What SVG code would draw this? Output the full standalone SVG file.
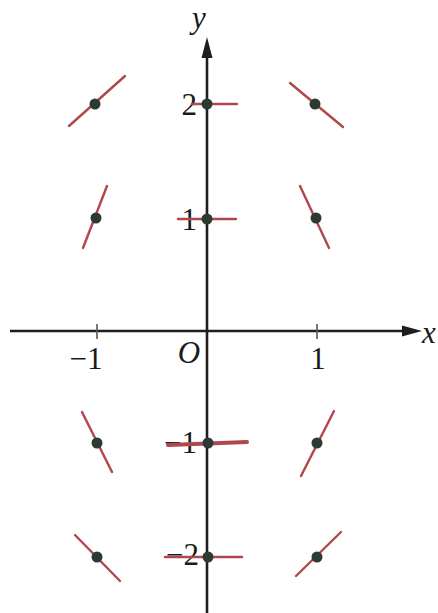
<svg xmlns="http://www.w3.org/2000/svg" width="438" height="613" viewBox="0 0 438 613">
<defs>
<style>
.lbl{font-family:"Liberation Serif","Times New Roman",serif;font-size:31px;fill:#1a1a1a}
.it{font-style:italic}
.axis{stroke:#1e1e1e;stroke-width:2.6;fill:none}
.tick{stroke:#555;stroke-width:1.6}
.seg{stroke:#b0474c;stroke-width:2.4;stroke-linecap:round}
.thick{stroke-width:4}
.dot{fill:#2d3a34}
</style>
</defs>
<rect width="438" height="613" fill="#ffffff"/>
<g id="labels">
<text class="lbl it" x="192" y="28">y</text>
<text class="lbl it" x="422" y="343">x</text>
<text class="lbl it" x="189" y="363" text-anchor="middle">O</text>
<text class="lbl" x="86" y="369" text-anchor="middle">−1</text>
<text class="lbl" x="318" y="369" text-anchor="middle">1</text>
<text class="lbl" x="197" y="115" text-anchor="end">2</text>
<text class="lbl" x="197" y="230" text-anchor="end">1</text>
<text class="lbl" x="197" y="453" text-anchor="end">−1</text>
<text class="lbl" x="199" y="565" text-anchor="end">−2</text>
</g>
<g id="axes">
<line class="axis" x1="10" y1="331" x2="406" y2="331"/>
<polygon points="422,331 402,325.5 402,336.5" fill="#1e1e1e"/>
<line class="axis" x1="207" y1="613" x2="207" y2="54"/>
<polygon points="207,37 201.5,58 212.5,58" fill="#1e1e1e"/>
<line class="tick" x1="97" y1="324" x2="97" y2="339"/>
<line class="tick" x1="317" y1="324" x2="317" y2="339"/>
</g>
<g id="p-m1-2"><line class="seg" x1="69" y1="126" x2="125" y2="76"/><circle class="dot" cx="95" cy="104" r="5.5"/></g>
<g id="p-0-2"><line class="seg" x1="192" y1="104" x2="237" y2="104"/><circle class="dot" cx="207" cy="104" r="5.5"/></g>
<g id="p-1-2"><line class="seg" x1="290" y1="83" x2="343" y2="127"/><circle class="dot" cx="315" cy="104" r="5.5"/></g>
<g id="p-m1-1"><line class="seg" x1="83" y1="248" x2="107" y2="186"/><circle class="dot" cx="96" cy="218" r="5.5"/></g>
<g id="p-0-1"><line class="seg" x1="178" y1="219" x2="236" y2="219"/><circle class="dot" cx="207" cy="219" r="5.5"/></g>
<g id="p-1-1"><line class="seg" x1="300" y1="186" x2="329" y2="248"/><circle class="dot" cx="316" cy="218" r="5.5"/></g>
<g id="p-m1-m1"><line class="seg" x1="82" y1="412" x2="112" y2="472"/><circle class="dot" cx="97" cy="443" r="5.5"/></g>
<g id="p-0-m1"><line class="seg thick" x1="168" y1="445" x2="247" y2="442"/><circle class="dot" cx="208" cy="443" r="5.5"/></g>
<g id="p-1-m1"><line class="seg" x1="301" y1="476" x2="334" y2="411"/><circle class="dot" cx="317" cy="443" r="5.5"/></g>
<g id="p-m1-m2"><line class="seg" x1="75" y1="535" x2="120" y2="581"/><circle class="dot" cx="97" cy="557" r="5.5"/></g>
<g id="p-0-m2"><line class="seg" x1="165" y1="557" x2="242" y2="557"/><circle class="dot" cx="208" cy="557" r="5.5"/></g>
<g id="p-1-m2"><line class="seg" x1="296" y1="576" x2="341" y2="532"/><circle class="dot" cx="317" cy="557" r="5.5"/></g>
</svg>
